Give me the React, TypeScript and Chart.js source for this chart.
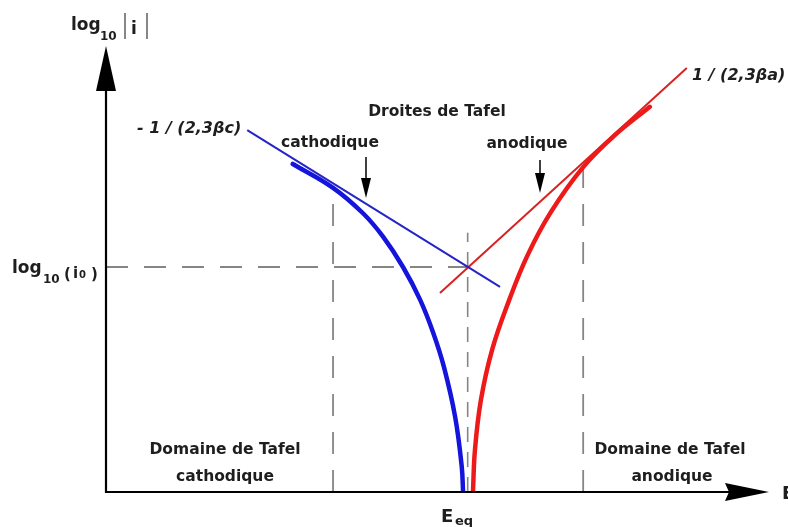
import React, { useEffect, useRef } from "react";
import { Chart, registerables } from "chart.js";

Chart.register(...registerables);

// Potential E (arbitrary units from the axis origin) and log10|i| (arbitrary units)
const cathodicE = [28.3, 34.4, 38.9, 42.0, 45.0, 47.6, 49.6, 51.2, 52.9, 53.9, 54.1];
const cathodicLogI = [72.9, 67.6, 62.0, 56.7, 50.0, 42.7, 35.3, 27.8, 16.7, 5.6, 0];

const anodicE = [55.6, 55.9, 56.8, 58.5, 61.1, 63.9, 67.4, 72.3, 77.1, 82.4];
const anodicLogI = [0, 9.3, 20.4, 31.6, 42.7, 52.7, 62.2, 72.2, 79.3, 85.6];

const cathodicTafelE = [21.4, 59.7];
const cathodicTafelLogI = [80.4, 45.6];
const anodicTafelE = [50.6, 88.0];
const anodicTafelLogI = [44.2, 94.2];

const E_EQ = 54.8;
const LOG_I0 = 50;
const LOG_I0_LINE_END = 55.6;
const EQ_LINE_TOP = 57.6;
const cathodicLimit = { E: 34.4, logI: 67.6 };
const anodicLimit = { E: 72.3, logI: 72.2 };

const X_MIN = 0;
const X_MAX = 101;
const Y_MIN = 0;
const Y_MAX = 100;

const FONT = '"DejaVu Sans", "Liberation Sans", sans-serif';

const toPts = (xs: number[], ys: number[]) => xs.map((x, i) => ({ x, y: ys[i] }));

const decorPlugin = {
  id: "tafelDecor",
  beforeDraw(chart: any) {
    const ctx = chart.ctx;
    ctx.save();
    ctx.fillStyle = "#ffffff";
    ctx.fillRect(0, 0, chart.width, chart.height);
    ctx.restore();
  },
  afterDraw(chart: any) {
    const ctx: CanvasRenderingContext2D = chart.ctx;
    const xs = chart.scales.x;
    const ys = chart.scales.y;
    const x0 = xs.getPixelForValue(0);
    const y0 = ys.getPixelForValue(0);
    ctx.save();

    // axes
    ctx.strokeStyle = "#000";
    ctx.fillStyle = "#000";
    ctx.lineWidth = 2.2;
    ctx.beginPath();
    ctx.moveTo(x0, y0 + 1);
    ctx.lineTo(x0, 86);
    ctx.stroke();
    ctx.beginPath();
    ctx.moveTo(x0, 46);
    ctx.lineTo(x0 - 10, 91);
    ctx.lineTo(x0 + 10, 91);
    ctx.closePath();
    ctx.fill();

    ctx.beginPath();
    ctx.moveTo(x0 - 1, y0);
    ctx.lineTo(730, y0);
    ctx.stroke();
    ctx.beginPath();
    ctx.moveTo(769, y0);
    ctx.lineTo(725, y0 - 9);
    ctx.lineTo(729, y0);
    ctx.lineTo(725, y0 + 9);
    ctx.closePath();
    ctx.fill();

    const t = (s: string, x: number, y: number, size: number, align: CanvasTextAlign = "left", italic = false) => {
      ctx.font = `${italic ? "italic " : ""}bold ${size}px ${FONT}`;
      ctx.textAlign = align;
      ctx.textBaseline = "alphabetic";
      ctx.fillText(s, x, y);
      return ctx.measureText(s).width;
    };

    ctx.fillStyle = "#1e1e1e";
    // y-axis title: log10 |i|
    t("log", 71, 30, 17);
    t("10", 100, 40, 12);
    ctx.strokeStyle = "#555";
    ctx.lineWidth = 1.4;
    ctx.beginPath();
    ctx.moveTo(125, 13);
    ctx.lineTo(125, 39);
    ctx.moveTo(147, 13);
    ctx.lineTo(147, 39);
    ctx.stroke();
    t("i", 131, 34, 17);

    // log10 (i0)
    t("log", 12, 273, 17);
    t("10", 43, 283, 12);
    t("(", 64, 279, 15);
    t("i", 73, 278, 15);
    t("0", 79, 278, 10);
    t(")", 91, 279, 15);

    // slope labels
    t("- 1 / (2,3\u03B2c)", 137, 133, 16, "left", true);
    t("1 / (2,3\u03B2a)", 692, 80, 16, "left", true);

    // Tafel lines labels
    t("Droites de Tafel", 437, 116, 15.5, "center");
    t("cathodique", 330, 147, 15.5, "center");
    t("anodique", 527, 148, 15.5, "center");

    // domain labels
    t("Domaine de Tafel", 225, 454, 15.5, "center");
    t("cathodique", 225, 481, 15.5, "center");
    t("Domaine de Tafel", 670, 454, 15.5, "center");
    t("anodique", 672, 481, 15.5, "center");

    // E_eq and E
    t("E", 441, 522, 18);
    t("eq", 455, 525, 13);
    t("E", 782, 499, 18);

    // pointer arrows
    const arrow = (x: number, yTop: number, yTip: number) => {
      ctx.strokeStyle = "#000";
      ctx.fillStyle = "#000";
      ctx.lineWidth = 1.5;
      ctx.beginPath();
      ctx.moveTo(x, yTop);
      ctx.lineTo(x, yTip - 15);
      ctx.stroke();
      ctx.beginPath();
      ctx.moveTo(x - 5, yTip - 20);
      ctx.lineTo(x + 5, yTip - 20);
      ctx.lineTo(x, yTip);
      ctx.closePath();
      ctx.fill();
    };
    arrow(366, 157, 198);
    arrow(540, 160, 193);

    ctx.restore();
  },
};

export default function App() {
  const ref = useRef<HTMLCanvasElement | null>(null);

  useEffect(() => {
    document.body.style.margin = "0";
    if (!ref.current) return;
    const gray = "#858585";
    const chart = new Chart(ref.current, {
      type: "line",
      data: {
        datasets: [
          {
            data: toPts(cathodicE, cathodicLogI),
            borderColor: "#1414dc",
            borderWidth: 4.5,
            tension: 0.4,
            borderCapStyle: "round",
            pointRadius: 0,
          },
          {
            data: toPts(anodicE, anodicLogI),
            borderColor: "#ee1a1a",
            borderWidth: 4.5,
            tension: 0.4,
            borderCapStyle: "round",
            pointRadius: 0,
          },
          {
            data: toPts(cathodicTafelE, cathodicTafelLogI),
            borderColor: "#2424c8",
            borderWidth: 2,
            pointRadius: 0,
          },
          {
            data: toPts(anodicTafelE, anodicTafelLogI),
            borderColor: "#d82222",
            borderWidth: 2,
            pointRadius: 0,
          },
          {
            data: toPts([0, LOG_I0_LINE_END], [LOG_I0, LOG_I0]),
            borderColor: gray,
            borderWidth: 1.8,
            borderDash: [22, 16],
            pointRadius: 0,
          },
          {
            data: toPts([E_EQ, E_EQ], [0, EQ_LINE_TOP]),
            borderColor: gray,
            borderWidth: 1.6,
            borderDash: [15, 10],
            pointRadius: 0,
          },
          {
            data: toPts([cathodicLimit.E, cathodicLimit.E], [0, cathodicLimit.logI]),
            borderColor: gray,
            borderWidth: 1.8,
            borderDash: [22, 16],
            pointRadius: 0,
          },
          {
            data: toPts([anodicLimit.E, anodicLimit.E], [0, anodicLimit.logI]),
            borderColor: gray,
            borderWidth: 1.8,
            borderDash: [22, 16],
            pointRadius: 0,
          },
        ],
      },
      options: {
        animation: false,
        responsive: false,
        maintainAspectRatio: false,
        parsing: false,
        layout: { padding: { left: 106, right: 15.4, top: 42, bottom: 35 } },
        plugins: { legend: { display: false }, tooltip: { enabled: false }, title: { display: false } },
        scales: {
          x: { type: "linear", display: false, min: X_MIN, max: X_MAX },
          y: { type: "linear", display: false, min: Y_MIN, max: Y_MAX },
        },
        elements: { line: { fill: false } },
      },
      plugins: [decorPlugin],
    } as any);
    return () => chart.destroy();
  }, []);

  return (
    <div style={{ width: 788, height: 527 }}>
      <canvas ref={ref} width={788} height={527} style={{ display: "block", width: 788, height: 527 }} />
    </div>
  );
}
